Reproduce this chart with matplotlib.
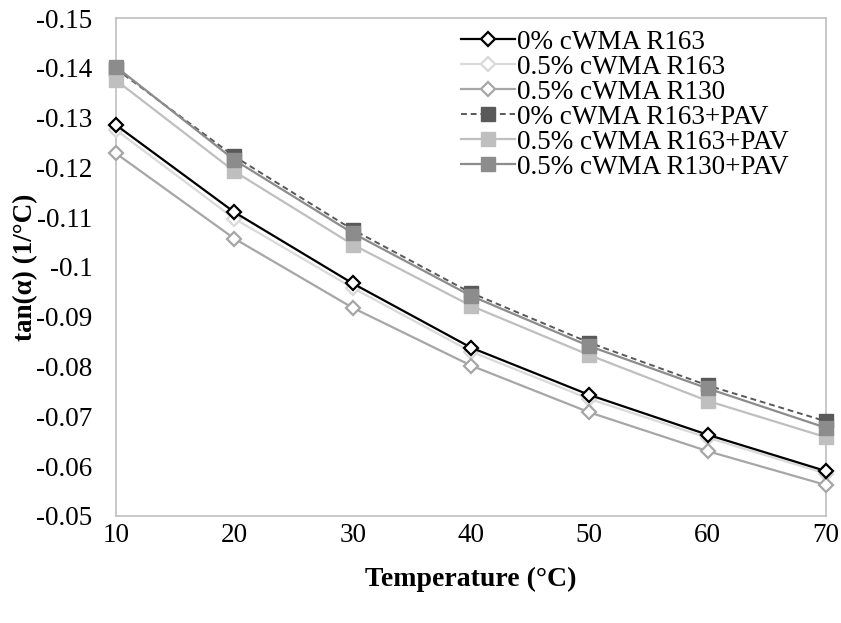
import matplotlib
matplotlib.use("Agg")
import matplotlib.pyplot as plt
from matplotlib.ticker import FuncFormatter

plt.rcParams['font.family'] = ['Liberation Serif', 'DejaVu Serif']
plt.rcParams['axes.unicode_minus'] = False

temps = [10, 20, 30, 40, 50, 60, 70]
r163_0 = [-0.1285, -0.1110, -0.0967, -0.0838, -0.0743, -0.0663, -0.0590]
r163_05 = [-0.1275, -0.1097, -0.0958, -0.0830, -0.0735, -0.0657, -0.0585]
r130_05 = [-0.1228, -0.1057, -0.0918, -0.0802, -0.0708, -0.0630, -0.0562]
pav_r163_0 = [-0.1398, -0.1222, -0.1075, -0.0948, -0.0848, -0.0762, -0.0690]
pav_r163_05 = [-0.1375, -0.1192, -0.1045, -0.0922, -0.0823, -0.0731, -0.0658]
pav_r130_05 = [-0.1402, -0.1215, -0.1068, -0.0942, -0.0841, -0.0756, -0.0677]

labels = ["0% cWMA R163", "0.5% cWMA R163", "0.5% cWMA R130",
          "0% cWMA R163+PAV", "0.5% cWMA R163+PAV", "0.5% cWMA R130+PAV"]

fig = plt.figure(figsize=(8.41, 6.23), dpi=100)
ax = fig.add_axes([0.138, 0.172, 0.844, 0.799])

# diamonds, hollow
ax.plot(temps, r163_0, color='black', lw=1.6, marker='D', ms=7,
        mfc='white', mec='black', mew=1.6, label=labels[0], zorder=4)
ax.plot(temps, r163_05, color='#d9d9d9', lw=1.6, marker='D', ms=7,
        mfc='white', mec='#d9d9d9', mew=1.6, label=labels[1], zorder=3)
ax.plot(temps, r130_05, color='#a6a6a6', lw=1.6, marker='D', ms=7,
        mfc='white', mec='#a6a6a6', mew=1.6, label=labels[2], zorder=3)
# squares, filled
ax.plot(temps, pav_r163_0, color='#595959', lw=1.4, ls=(0, (3, 2)), marker='s', ms=10,
        mfc='#595959', mec='#595959', label=labels[3], zorder=3)
ax.plot(temps, pav_r163_05, color='#bfbfbf', lw=1.6, marker='s', ms=10,
        mfc='#bfbfbf', mec='#bfbfbf', label=labels[4], zorder=3)
ax.plot(temps, pav_r130_05, color='#8c8c8c', lw=1.6, marker='s', ms=10,
        mfc='#8c8c8c', mec='#8c8c8c', label=labels[5], zorder=3)

ax.set_xlim(10, 70)
ax.set_ylim(-0.05, -0.15)
ax.set_xticks(temps)
ax.set_yticks([-0.15, -0.14, -0.13, -0.12, -0.11, -0.1, -0.09, -0.08, -0.07, -0.06, -0.05])
ax.yaxis.set_major_formatter(FuncFormatter(lambda v, p: "%g" % round(v, 4)))
ax.tick_params(length=0, labelsize=19.5)
ax.tick_params(axis='y', pad=17)
ax.tick_params(axis='x', pad=5)
for s in ax.spines.values():
    s.set_color('#bfbfbf')
    s.set_linewidth(1.2)
for line in ax.get_lines():
    line.set_clip_on(False)

ax.set_xlabel("Temperature (°C)", fontsize=20, fontweight='bold', labelpad=14)
ax.set_ylabel("tan(α) (1/°C)", fontsize=19.5, fontweight='bold')
ax.yaxis.set_label_coords(-0.11, 0.5)

ax.legend(loc='upper right', bbox_to_anchor=(0.975, 1.015), frameon=False, fontsize=19.5,
          handlelength=2.0, handletextpad=0.1, labelspacing=0.0, borderaxespad=0.3)

fig.savefig("out.png", dpi=100)
